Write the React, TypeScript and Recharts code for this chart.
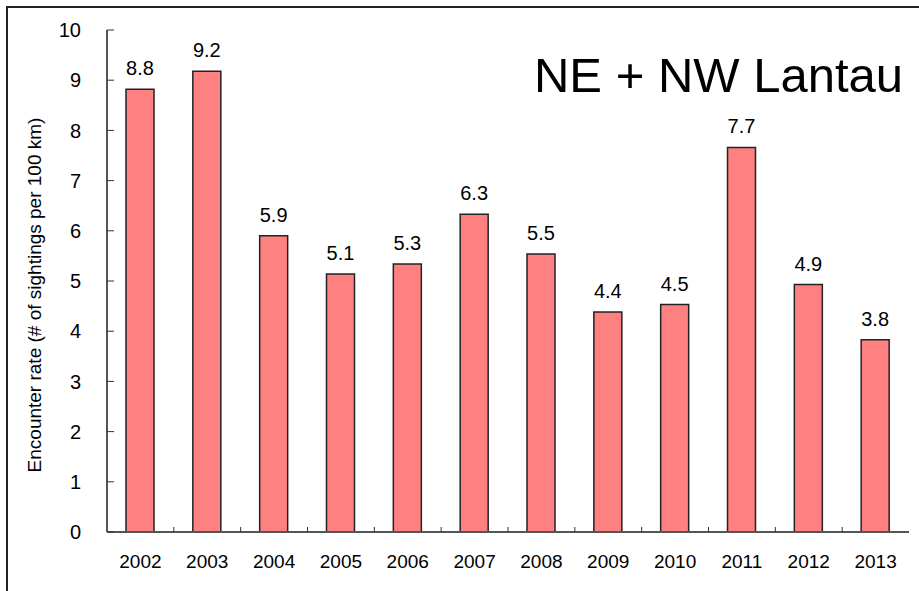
import React from "react"
import {
  BarChart,
  Bar,
  XAxis,
  YAxis,
  LabelList,
} from "recharts"

const years = [
  "2002", "2003", "2004", "2005", "2006", "2007",
  "2008", "2009", "2010", "2011", "2012", "2013",
]
const encounterRate = [8.82, 9.18, 5.9, 5.14, 5.34, 6.33, 5.54, 4.38, 4.53, 7.66, 4.93, 3.83]
const yTicks = [0, 1, 2, 3, 4, 5, 6, 7, 8, 9, 10]

const W = 919
const H = 591
const margin = { top: 30, right: 10, bottom: 0, left: 0 }
const xAxisHeight = 59
const yAxisWidth = 107
const plotWidth = W - margin.left - margin.right - yAxisWidth
const band = plotWidth / years.length

const font = "'Liberation Sans', Arial, sans-serif"

const YTick = (props: any) => {
  const { x, y, payload } = props
  const axisX = x + 26
  return (
    <g>
      <line x1={axisX} x2={axisX + 7} y1={y} y2={y} stroke="#333" strokeWidth={1} />
      <text x={x} y={y} dy="0.36em" textAnchor="end" fontSize={20} fill="#000" fontFamily={font}>
        {payload.value}
      </text>
    </g>
  )
}

const XTick = (props: any) => {
  const { x, y, payload, index } = props
  const axisY = y - 12
  return (
    <g>
      {index < years.length - 1 && (
        <line x1={x + band / 2} x2={x + band / 2} y1={axisY} y2={axisY - 5} stroke="#333" strokeWidth={1} />
      )}
      <text x={x} y={axisY + 36} textAnchor="middle" fontSize={19} fill="#000" fontFamily={font}>
        {payload.value}
      </text>
    </g>
  )
}

export default function App() {
  const data = years.map((year, i) => ({ year, rate: encounterRate[i] }))

  return (
    <div style={{ position: "absolute", left: 0, top: 0, width: W, height: H, background: "#fff", overflow: "hidden" }}>
      <div
        style={{
          position: "absolute",
          left: 6,
          top: 6,
          width: W,
          height: H,
          borderLeft: "2px solid #222",
          borderTop: "2px solid #222",
        }}
      />
      <BarChart
        width={W}
        height={H}
        data={data}
        margin={margin}
        barSize={28}
        style={{ position: "absolute", left: 0, top: 0 }}
      >
        <XAxis
          dataKey="year"
          height={xAxisHeight}
          tickLine={false}
          tickSize={0}
          tickMargin={12}
          axisLine={{ stroke: "#555", strokeWidth: 2 }}
          tick={<XTick />}
          interval={0}
        />
        <XAxis
          xAxisId="top"
          orientation="top"
          dataKey="year"
          height={0}
          tick={false}
          tickLine={false}
          axisLine={{ stroke: "#999", strokeWidth: 1 }}
        />
        <YAxis
          width={yAxisWidth}
          domain={[0, 10]}
          ticks={yTicks}
          tickLine={false}
          tickSize={0}
          tickMargin={26}
          axisLine={{ stroke: "#555", strokeWidth: 2 }}
          tick={<YTick />}
          interval={0}
          label={{
            value: "Encounter rate (# of sightings per 100 km)",
            angle: -90,
            position: "center",
            dx: -19,
            dy: 14,
            fontSize: 19,
            fill: "#000",
            fontFamily: font,
          }}
        />
        <YAxis
          yAxisId="right"
          orientation="right"
          width={0}
          domain={[0, 10]}
          tick={false}
          tickLine={false}
          axisLine={{ stroke: "#999", strokeWidth: 1 }}
        />
        <Bar dataKey="rate" fill="#FF8080" stroke="#222" strokeWidth={1.5} isAnimationActive={false}>
          <LabelList
            dataKey="rate"
            position="top"
            offset={14}
            formatter={(v: any) => Number(v).toFixed(1)}
            fontSize={20}
            fill="#000"
            fontFamily={font}
          />
        </Bar>
        <text x={903} y={92} textAnchor="end" fontSize={49} fill="#000" fontFamily={font}>
          NE + NW Lantau
        </text>
      </BarChart>
    </div>
  )
}
